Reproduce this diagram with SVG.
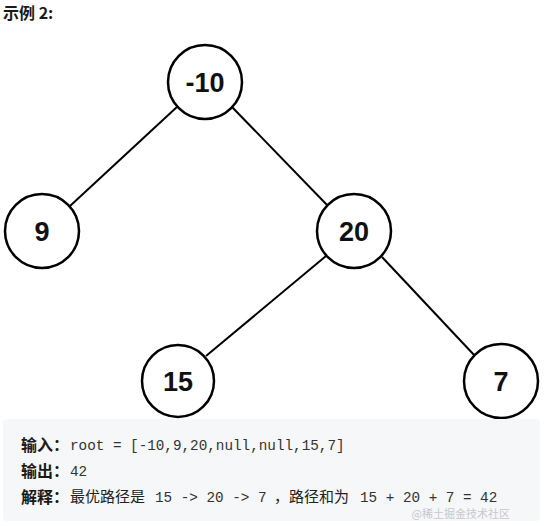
<svg xmlns="http://www.w3.org/2000/svg" width="545" height="526" viewBox="0 0 545 526">
<style>
.n circle{fill:#fff;stroke:#000;stroke-width:2.5}
.n text{font-family:"Liberation Sans",Arial,sans-serif;font-weight:bold;font-size:27px;fill:#111;text-anchor:middle}
.e line{stroke:#000;stroke-width:2}
.cn{font-family:"Noto Sans CJK SC","Liberation Sans",sans-serif;font-size:15px;fill:#222}
.lb{font-weight:bold;fill:#1a1a1a}
.mono{font-family:"Liberation Mono","DejaVu Sans Mono",monospace;font-size:14.3px;fill:#333}
</style>
<rect width="545" height="526" fill="#fff"/>
<text x="3" y="19" class="cn lb" style="font-size:16px">示例 2:</text>
<g id="connectors" class="e">
<line x1="178" y1="106" x2="70" y2="206"/>
<line x1="232" y1="107" x2="328" y2="206"/>
<line x1="326" y1="256" x2="206" y2="356"/>
<line x1="382" y1="257" x2="475" y2="356"/>
</g>
<g id="node-m10" class="n"><circle cx="205" cy="82" r="37"/><text x="205" y="92">-10</text></g>
<g id="node-9" class="n"><circle cx="42" cy="231" r="37"/><text x="42" y="241">9</text></g>
<g id="node-20" class="n"><circle cx="354" cy="231" r="37"/><text x="354" y="241">20</text></g>
<g id="node-15" class="n"><circle cx="178" cy="381" r="36"/><text x="178" y="391">15</text></g>
<g id="node-7" class="n"><circle cx="501" cy="381" r="37"/><text x="501" y="391">7</text></g>
<rect x="3" y="419" width="537" height="102" rx="4" fill="#f6f7f9"/>
<text x="21" y="451" class="cn lb" style="font-size:16px">输入：</text>
<text x="70" y="450" class="mono">root = [-10,9,20,null,null,15,7]</text>
<text x="21" y="477" class="cn lb" style="font-size:16px">输出：</text>
<text x="70" y="476" class="mono">42</text>
<text x="21" y="503" class="cn lb" style="font-size:16px">解释：</text>
<text x="70" y="502" class="cn">最优路径是</text>
<text x="155" y="502" class="mono">15 -&gt; 20 -&gt; 7</text>
<text x="274" y="502" class="cn">，路径和为</text>
<text x="360" y="502" class="mono">15 + 20 + 7 = 42</text>
<text x="510" y="518" style="font-family:'Noto Sans CJK SC',sans-serif;font-size:11px;fill:#c8c8cc;text-anchor:end">@稀土掘金技术社区</text>
</svg>
